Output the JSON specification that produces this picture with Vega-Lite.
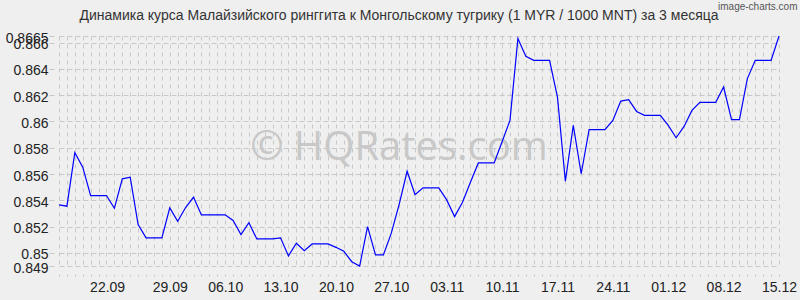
{
  "$schema": "https://vega.github.io/schema/vega-lite/v6.json",
  "width": 720,
  "height": 230,
  "autosize": "none",
  "padding": {"left": 59, "top": 36, "right": 21, "bottom": 34},
  "background": "#efefef",
  "config": {"view": {"stroke": null}, "font": "Liberation Sans"},
  "title": {
    "text": "Динамика курса Малайзийского ринггита к Монгольскому тугрику (1 MYR / 1000 MNT) за 3 месяца",
    "fontSize": 14,
    "fontWeight": "normal",
    "font": "Liberation Sans",
    "color": "#333333",
    "anchor": "middle",
    "dx": -20,
    "baseline": "alphabetic",
    "offset": -33
  },
  "data": {
    "values": [
      {"date": "2025-09-15", "rate": 0.85365},
      {"date": "2025-09-16", "rate": 0.85355},
      {"date": "2025-09-17", "rate": 0.85762},
      {"date": "2025-09-18", "rate": 0.85652},
      {"date": "2025-09-19", "rate": 0.85436},
      {"date": "2025-09-20", "rate": 0.85436},
      {"date": "2025-09-21", "rate": 0.85436},
      {"date": "2025-09-22", "rate": 0.85339},
      {"date": "2025-09-23", "rate": 0.85563},
      {"date": "2025-09-24", "rate": 0.85576},
      {"date": "2025-09-25", "rate": 0.85215},
      {"date": "2025-09-26", "rate": 0.85114},
      {"date": "2025-09-27", "rate": 0.85114},
      {"date": "2025-09-28", "rate": 0.85114},
      {"date": "2025-09-29", "rate": 0.85342},
      {"date": "2025-09-30", "rate": 0.8524},
      {"date": "2025-10-01", "rate": 0.85345},
      {"date": "2025-10-02", "rate": 0.85423},
      {"date": "2025-10-03", "rate": 0.85289},
      {"date": "2025-10-04", "rate": 0.85289},
      {"date": "2025-10-05", "rate": 0.85289},
      {"date": "2025-10-06", "rate": 0.85289},
      {"date": "2025-10-07", "rate": 0.85246},
      {"date": "2025-10-08", "rate": 0.85139},
      {"date": "2025-10-09", "rate": 0.8523},
      {"date": "2025-10-10", "rate": 0.85106},
      {"date": "2025-10-11", "rate": 0.85106},
      {"date": "2025-10-12", "rate": 0.85106},
      {"date": "2025-10-13", "rate": 0.85114},
      {"date": "2025-10-14", "rate": 0.84977},
      {"date": "2025-10-15", "rate": 0.85073},
      {"date": "2025-10-16", "rate": 0.85017},
      {"date": "2025-10-17", "rate": 0.85068},
      {"date": "2025-10-18", "rate": 0.85068},
      {"date": "2025-10-19", "rate": 0.85068},
      {"date": "2025-10-20", "rate": 0.85042},
      {"date": "2025-10-21", "rate": 0.85012},
      {"date": "2025-10-22", "rate": 0.84933},
      {"date": "2025-10-23", "rate": 0.849},
      {"date": "2025-10-24", "rate": 0.852},
      {"date": "2025-10-25", "rate": 0.84984},
      {"date": "2025-10-26", "rate": 0.84984},
      {"date": "2025-10-27", "rate": 0.8515},
      {"date": "2025-10-28", "rate": 0.85371},
      {"date": "2025-10-29", "rate": 0.85621},
      {"date": "2025-10-30", "rate": 0.85442},
      {"date": "2025-10-31", "rate": 0.85495},
      {"date": "2025-11-01", "rate": 0.85495},
      {"date": "2025-11-02", "rate": 0.85495},
      {"date": "2025-11-03", "rate": 0.85403},
      {"date": "2025-11-04", "rate": 0.85276},
      {"date": "2025-11-05", "rate": 0.85385},
      {"date": "2025-11-06", "rate": 0.85537},
      {"date": "2025-11-07", "rate": 0.85684},
      {"date": "2025-11-08", "rate": 0.85684},
      {"date": "2025-11-09", "rate": 0.85684},
      {"date": "2025-11-10", "rate": 0.85845},
      {"date": "2025-11-11", "rate": 0.86008},
      {"date": "2025-11-12", "rate": 0.8663},
      {"date": "2025-11-13", "rate": 0.86496},
      {"date": "2025-11-14", "rate": 0.86465},
      {"date": "2025-11-15", "rate": 0.86465},
      {"date": "2025-11-16", "rate": 0.86465},
      {"date": "2025-11-17", "rate": 0.86185},
      {"date": "2025-11-18", "rate": 0.85545},
      {"date": "2025-11-19", "rate": 0.8597},
      {"date": "2025-11-20", "rate": 0.85602},
      {"date": "2025-11-21", "rate": 0.85937},
      {"date": "2025-11-22", "rate": 0.85937},
      {"date": "2025-11-23", "rate": 0.85937},
      {"date": "2025-11-24", "rate": 0.86008},
      {"date": "2025-11-25", "rate": 0.86155},
      {"date": "2025-11-26", "rate": 0.86166},
      {"date": "2025-11-27", "rate": 0.86076},
      {"date": "2025-11-28", "rate": 0.86046},
      {"date": "2025-11-29", "rate": 0.86046},
      {"date": "2025-11-30", "rate": 0.86046},
      {"date": "2025-12-01", "rate": 0.8597},
      {"date": "2025-12-02", "rate": 0.85876},
      {"date": "2025-12-03", "rate": 0.85962},
      {"date": "2025-12-04", "rate": 0.86084},
      {"date": "2025-12-05", "rate": 0.86145},
      {"date": "2025-12-06", "rate": 0.86145},
      {"date": "2025-12-07", "rate": 0.86145},
      {"date": "2025-12-08", "rate": 0.86262},
      {"date": "2025-12-09", "rate": 0.86013},
      {"date": "2025-12-10", "rate": 0.86013},
      {"date": "2025-12-11", "rate": 0.86326},
      {"date": "2025-12-12", "rate": 0.86465},
      {"date": "2025-12-13", "rate": 0.86465},
      {"date": "2025-12-14", "rate": 0.86465},
      {"date": "2025-12-15", "rate": 0.8665}
    ]
  },
  "layer": [
    {
      "data": {"values": [{"label": "© HQRates.com"}]},
      "mark": {"type": "text", "font": "Open Sans", "fontSize": 40, "color": "#c8c8c8", "dx": -20, "dy": -3, "baseline": "middle", "align": "center"},
      "encoding": {"text": {"field": "label", "type": "nominal"}}
    },
    {
      "mark": {"type": "line", "opacity": 0},
      "encoding": {
        "x": {
          "field": "date", "type": "temporal",
          "scale": {"type": "utc", "nice": false},
          "axis": {
            "orient": "bottom", "title": null,
            "tickCount": {"interval": "day", "step": 1},
            "grid": true, "gridColor": "#c8c8c8", "gridDash": [4, 4], "gridWidth": 1,
            "labels": false, "domain": false,
            "ticks": true, "tickSize": 10, "tickColor": "#c8c8c8", "tickDash": [0, 8, 2, 10]
          }
        },
        "y": {
          "field": "rate", "type": "quantitative",
          "scale": {"domain": [0.849, 0.8665], "nice": false, "zero": false},
          "axis": {
            "values": [0.849, 0.85, 0.852, 0.854, 0.856, 0.858, 0.86, 0.862, 0.864, 0.866, 0.8665],
            "format": ".4~f",
            "grid": true, "gridColor": "#c8c8c8", "gridDash": [5, 3], "gridWidth": 1,
            "domain": false,
            "ticks": true, "tickSize": 10, "tickColor": "#c8c8c8", "tickDash": [0, 5, 5, 0],
            "labelFontSize": 14, "labelColor": "#222222", "labelFont": "Liberation Sans",
            "labelPadding": 1, "labelOffset": 2, "labelOverlap": false, "labelFlush": false, "labelBound": false,
            "title": "image-charts.com", "titleAngle": 0, "titleX": 738, "titleY": -27,
            "titleAlign": "right", "titleBaseline": "alphabetic", "titleFontSize": 10,
            "titleFontWeight": "normal", "titleColor": "#555555", "titleFont": "Liberation Sans"
          }
        }
      }
    },
    {
      "mark": {"type": "line", "color": "#0000ff", "strokeWidth": 1.2},
      "encoding": {
        "x": {
          "field": "date", "type": "temporal",
          "scale": {"type": "utc", "nice": false},
          "axis": {
            "orient": "bottom", "title": null,
            "values": [
              {"year": 2025, "month": 9, "date": 21, "hours": 2, "utc": true},
              {"year": 2025, "month": 9, "date": 29, "utc": true},
              {"year": 2025, "month": 10, "date": 6, "utc": true},
              {"year": 2025, "month": 10, "date": 13, "utc": true},
              {"year": 2025, "month": 10, "date": 20, "utc": true},
              {"year": 2025, "month": 10, "date": 27, "utc": true},
              {"year": 2025, "month": 11, "date": 3, "utc": true},
              {"year": 2025, "month": 11, "date": 10, "utc": true},
              {"year": 2025, "month": 11, "date": 17, "utc": true},
              {"year": 2025, "month": 11, "date": 24, "utc": true},
              {"year": 2025, "month": 12, "date": 1, "utc": true},
              {"year": 2025, "month": 12, "date": 8, "utc": true},
              {"year": 2025, "month": 12, "date": 15, "utc": true}
            ],
            "labelExpr": "utcFormat(time(datum.value) + 82800000, '%d.%m')",
            "grid": false, "domain": false, "ticks": false,
            "labelFontSize": 14, "labelColor": "#222222", "labelFont": "Liberation Sans",
            "labelPadding": 14, "labelOverlap": false, "labelFlush": false
          }
        },
        "y": {
          "field": "rate", "type": "quantitative",
          "scale": {"domain": [0.849, 0.8665], "nice": false, "zero": false},
          "axis": {
            "values": [0.849, 0.85, 0.852, 0.854, 0.856, 0.858, 0.86, 0.862, 0.864, 0.866, 0.8665],
            "format": ".4~f",
            "grid": true, "gridColor": "#c8c8c8", "gridDash": [5, 3], "gridWidth": 1,
            "domain": false,
            "ticks": true, "tickSize": 10, "tickColor": "#c8c8c8", "tickDash": [0, 5, 5, 0],
            "labelFontSize": 14, "labelColor": "#222222", "labelFont": "Liberation Sans",
            "labelPadding": 1, "labelOffset": 2, "labelOverlap": false, "labelFlush": false, "labelBound": false,
            "title": "image-charts.com", "titleAngle": 0, "titleX": 738, "titleY": -27,
            "titleAlign": "right", "titleBaseline": "alphabetic", "titleFontSize": 10,
            "titleFontWeight": "normal", "titleColor": "#555555", "titleFont": "Liberation Sans"
          }
        }
      }
    }
  ],
  "resolve": {"axis": {"x": "independent"}}
}
